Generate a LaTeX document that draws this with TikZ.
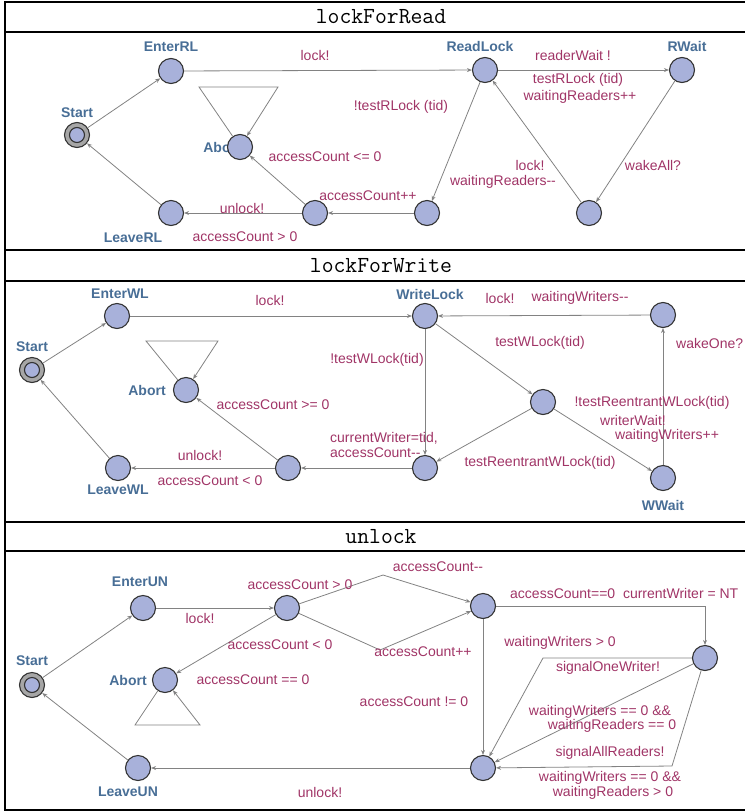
\documentclass[tikz,border=0pt]{standalone}
\usepackage{fontspec}
\setmainfont{Liberation Sans}
\usetikzlibrary{arrows.meta}

\definecolor{locfill}{RGB}{168,177,218}
\definecolor{namecol}{RGB}{72,110,150}
\definecolor{labcol}{RGB}{160,52,102}
\definecolor{edgecol}{RGB}{130,130,130}

\tikzset{
  loc/.style={circle, draw=black!80, fill=locfill, line width=1.1pt,
    minimum size=25pt, inner sep=0pt},
  initloc/.style={loc, fill=black!35},
  locname/.style={text=namecol, font=\fontsize{14}{16}\selectfont\bfseries, inner sep=0pt},
  lb/.style={text=labcol, font=\fontsize{14}{16}\selectfont, inner sep=0pt},
  tr/.style={draw=edgecol, line width=0.8pt, -{Stealth[length=5pt,width=4pt]}},
  ttl/.style={font=\fontsize{23}{26}\selectfont\ttfamily, inner sep=0pt}
}

\begin{document}
\begin{tikzpicture}[x=1pt, y=-1pt]
    \useasboundingbox (0,0) rectangle (745,812);
    \clip (0,0) rectangle (745,812);

    % frame and title rows
    \draw[line width=1.2pt] (5,2) rectangle (775,810);
    \foreach \y in {32,250,281,522,551}
      \draw[line width=1.2pt] (5,\y) -- (775,\y);
    \node[ttl] (h1) at (381,17) {lockForRead};
    \node[ttl] (h2) at (381,266) {lockForWrite};
    \node[ttl] (h3) at (381,537) {unlock};

    % ---- lockForRead
    \node[locname] (nab1) at (222,147) {Abort};
    \node[initloc] (s1) at (77,135) {};
    \node[loc, minimum size=15pt] (s1i) at (s1) {};
    \node[loc] (er) at (171,71) {};
    \node[loc] (rl) at (485,70) {};
    \node[loc] (rw) at (682,70) {};
    \node[loc] (ab1) at (240,147) {};
    \node[loc] (lr) at (171,213) {};
    \node[loc] (r1) at (315,213) {};
    \node[loc] (r2) at (427,213) {};
    \node[loc] (r3) at (589,213) {};
    \node[locname] (ns1) at (77,113) {Start};
    \node[locname] (ner) at (171,47) {EnterRL};
    \node[locname] (nrl) at (480,46) {ReadLock};
    \node[locname] (nrw) at (687,46) {RWait};
    \node[locname] (nlr) at (133,238) {LeaveRL};
    \coordinate (t1a) at (199,87);
    \coordinate (t1b) at (278,87);

    \draw[tr] (s1) -- (er);
    \draw[tr] (er) -- (rl);
    \draw[tr] (rl) -- (rw);
    \draw[tr] (rw) -- (r3);
    \draw[tr] (r3) -- (rl);
    \draw[tr] (rl) -- (r2);
    \draw[tr] (r2) -- (r1);
    \draw[tr] (r1) -- (lr);
    \draw[tr] (r1) -- (ab1);
    \draw[tr] (lr) -- (s1);
    \draw[tr] (ab1) -- (t1a) -- (t1b) -- (ab1);

    \node[lb] (l1) at (315,55) {lock!};
    \node[lb] (l2) at (573,55) {readerWait !};
    \node[lb] (l3) at (578,80) {testRLock (tid)};
    \node[lb] (l4) at (580,97) {waitingReaders++};
    \node[lb] (l5) at (401,107) {!testRLock (tid)};
    \node[lb] (l6) at (530,165) {lock!};
    \node[lb] (l7) at (503,182) {waitingReaders-{}-};
    \node[lb] (l8) at (653,165) {wakeAll?};
    \node[lb] (l9) at (368,196) {accessCount++};
    \node[lb] (l10) at (325,157) {accessCount <= 0};
    \node[lb] (l11) at (242,208) {unlock!};
    \node[lb] (l12) at (245,237) {accessCount > 0};

    % ---- lockForWrite
    \node[locname] (nab2) at (147,390) {Abort};
    \node[initloc] (s2) at (32,370) {};
    \node[loc, minimum size=15pt] (s2i) at (s2) {};
    \node[loc] (ew) at (117,316) {};
    \node[loc] (wl) at (425,316) {};
    \node[loc] (w1) at (663,315) {};
    \node[loc] (wm) at (543,402) {};
    \node[loc] (wb) at (425,468) {};
    \node[loc] (ww) at (663,478) {};
    \node[loc] (ab2) at (186,390) {};
    \node[loc] (lw) at (118,468) {};
    \node[loc] (w2) at (288,468) {};
    \node[locname] (ns2) at (32,347) {Start};
    \node[locname] (new) at (120,294) {EnterWL};
    \node[locname] (nwl) at (430,294) {WriteLock};
    \node[locname] (nww) at (663,505) {WWait};
    \node[locname] (nlw) at (118,490) {LeaveWL};
    \coordinate (t2a) at (146,341);
    \coordinate (t2b) at (218,341);

    \draw[tr] (s2) -- (ew);
    \draw[tr] (ew) -- (wl);
    \draw[tr] (wl) -- (wm);
    \draw[tr] (wm) -- (ww);
    \draw[tr] (ww) -- (w1);
    \draw[tr] (w1) -- (wl);
    \draw[tr] (wm) -- (wb);
    \draw[tr] (wl) -- (wb);
    \draw[tr] (wb) -- (w2);
    \draw[tr] (w2) -- (lw);
    \draw[tr] (w2) -- (ab2);
    \draw[tr] (lw) -- (s2);
    \draw[tr] (ab2) -- (t2a) -- (t2b) -- (ab2);

    \node[lb] (m1) at (270,300) {lock!};
    \node[lb] (m2) at (377,360) {!testWLock(tid)};
    \node[lb] (m3) at (500,298) {lock!};
    \node[lb] (m4) at (580,298) {waitingWriters-{}-};
    \node[lb] (m5) at (540,343) {testWLock(tid)};
    \node[lb, anchor=west] (m6) at (676,343) {wakeOne?};
    \node[lb] (m7) at (652,403) {!testReentrantWLock(tid)};
    \node[lb] (m8) at (633,420) {writerWait!};
    \node[lb] (m9) at (667,436) {waitingWriters++};
    \node[lb] (m10) at (540,463) {testReentrantWLock(tid)};
    \node[lb, anchor=west] (m11) at (330,438) {currentWriter=tid,};
    \node[lb, anchor=west] (m12) at (330,453) {accessCount-{}-};
    \node[lb] (m13) at (200,455) {unlock!};
    \node[lb] (m14) at (210,481) {accessCount < 0};
    \node[lb] (m15) at (273,405) {accessCount >= 0};

    % ---- unlock
    \node[locname] (nab3) at (128,680) {Abort};
    \node[initloc] (s3) at (32,685) {};
    \node[loc, minimum size=15pt] (s3i) at (s3) {};
    \node[loc] (eu) at (143,608) {};
    \node[loc] (u1) at (287,608) {};
    \node[loc] (u2) at (483,606) {};
    \node[loc] (u3) at (705,658) {};
    \node[loc] (u4) at (483,768) {};
    \node[loc] (ab3) at (165,680) {};
    \node[loc] (lu) at (138,768) {};
    \node[locname] (ns3) at (32,661) {Start};
    \node[locname] (neu) at (140,582) {EnterUN};
    \node[locname] (nlu) at (128,792) {LeaveUN};
    \coordinate (t3a) at (135,725);
    \coordinate (t3b) at (200,725);
    \coordinate (k1) at (383,575);
    \coordinate (k2) at (380,650);
    \coordinate (k3) at (705,606);
    \coordinate (k4) at (543,658);
    \coordinate (k5) at (672,766);

    \draw[tr] (s3) -- (eu);
    \draw[tr] (eu) -- (u1);
    \draw[tr] (u1) -- (k1) -- (u2);
    \draw[tr] (u1) -- (k2) -- (u2);
    \draw[tr] (u1) -- (ab3);
    \draw[tr] (u2) -- (k3) -- (u3);
    \draw[tr] (u2) -- (u4);
    \draw[tr] (u3) -- (k4) -- (u4);
    \draw[tr] (u3) -- (u4);
    \draw[tr] (u3) -- (k5) -- (u4);
    \draw[tr] (u4) -- (lu);
    \draw[tr] (lu) -- (s3);
    \draw[tr] (ab3) -- (t3a) -- (t3b) -- (ab3);

    \node[lb] (n1) at (200,618) {lock!};
    \node[lb] (n2) at (300,585) {accessCount > 0};
    \node[lb] (n3) at (438,567) {accessCount-{}-};
    \node[lb] (n4) at (280,645) {accessCount < 0};
    \node[lb] (n5) at (423,652) {accessCount++};
    \node[lb] (n6) at (253,680) {accessCount == 0};
    \node[lb, anchor=west] (n7) at (510,593) {accessCount==0~~currentWriter = NT};
    \node[lb] (n8) at (560,643) {waitingWriters > 0};
    \node[lb] (n9) at (608,668) {signalOneWriter!};
    \node[lb] (n10) at (414,702) {accessCount != 0};
    \node[lb] (n11) at (600,712) {waitingWriters == 0 \&\&};
    \node[lb] (n12) at (612,726) {waitingReaders == 0};
    \node[lb] (n13) at (610,753) {signalAllReaders!};
    \node[lb] (n14) at (610,778) {waitingWriters == 0 \&\&};
    \node[lb] (n15) at (613,793) {waitingReaders > 0};
    \node[lb] (n16) at (320,792) {unlock!};
\end{tikzpicture}
\end{document}
